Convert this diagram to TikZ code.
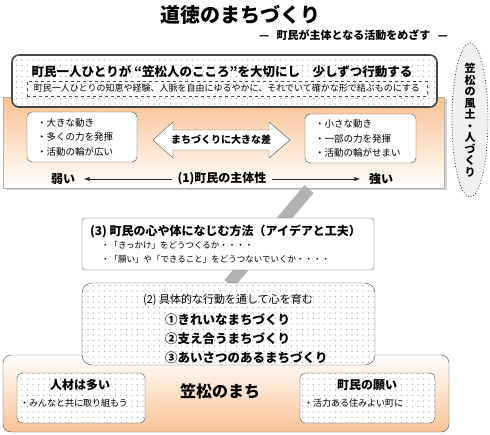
\documentclass[tikz,border=0pt]{standalone}
\usepackage{fontspec}
\setmainfont{Noto Sans CJK JP}
\usetikzlibrary{arrows.meta,shapes.geometric,patterns.meta,shadows}
\definecolor{peach}{RGB}{249,193,146}
\newcommand{\fsz}[2]{\fontsize{#1}{#2}\selectfont}

\begin{document}
\begin{tikzpicture}[x=1pt, y=-1pt, every node/.style={inner sep=0pt, outer sep=0pt}, >={Latex[length=2mm]},
	dotbox/.style={preaction={fill=white}, pattern={Dots[radius=0.55pt,distance=5.5pt]}, pattern color=gray!75, draw=gray!60!black},
	whitebox/.style={draw=gray!60!black, fill=white, rounded corners=#1},
	bullets/.style={align=left, font=\fsz{9.5}{14.5}, text width=90pt, inner xsep=10pt, anchor=north west},
	heading/.style={font=\bfseries\fsz{12}{14}}]
	\useasboundingbox (0,0) rectangle (490,434);
	% title
	\node[font=\bfseries\fsz{20}{24}] (title) at (240,15) {道徳のまちづくり};
	\node[font=\bfseries\fsz{11}{12}, anchor=east] (subtitle) at (448,35) {—\ \ \ 町民が主体となる活動をめざす\ \ \ —};
	% (1) upper orange part
	\node[draw=gray!60, top color=peach, bottom color=white, drop shadow={shadow xshift=3pt, shadow yshift=-2pt, fill=gray!70}, minimum width=441pt, minimum height=91pt, anchor=north west] (shutaibox) at (3,97) {};
	\node[dotbox, line width=1.6pt, draw=gray!55!black, rounded corners=7pt, minimum width=425pt, minimum height=52pt, anchor=north west] (kokoro) at (12,55) {};
	\node[font=\bfseries\fsz{12.5}{14}] (kokorotitle) at (222,72) {町民一人ひとりが “笠松人のこころ”を大切にし　少しずつ行動する};
	\node[draw=gray!60!black, dashed, fill=white, font=\fsz{9}{10}, minimum width=400pt, minimum height=15pt, anchor=north west] (chie) at (27,81) {町民一人ひとりの知恵や経験、人脈を自由にゆるやかに、それでいて確かな形で結ぶものにする};
	\node[whitebox=5pt, bullets, minimum height=50pt] (bigbox) at (27,112) {・大きな動き\\・多くの力を発揮\\・活動の輪が広い};
	\node[whitebox=5pt, bullets, text width=91pt, minimum height=49pt] (smallbox) at (305,114) {・小さな動き\\・一部の力を発揮\\・活動の輪がせまい};
	\draw[draw=gray!60!black, fill=white] (153,140) -- (173,122) -- (173,130) -- (269,130) -- (269,122) -- (290,140) -- (269,158) -- (269,150) -- (173,150) -- (173,158) -- cycle;
	\node[font=\bfseries\fsz{10}{12}] (sa) at (221,140) {まちづくりに大きな差};
	\node[heading] (weak) at (63,179) {弱い};
	\node[heading] (shutai) at (222,179) {(1)町民の主体性};
	\node[heading] (strong) at (381,179) {強い};
	\draw[->, gray!30!black] ([xshift=-6pt]shutai.west) -- ([xshift=9pt]weak.east);
	\draw[->, gray!30!black] ([xshift=6pt]shutai.east) -- ([xshift=-9pt]strong.west);
	% right ellipse
	\node[ellipse, draw=gray!40!black, dotted, thick, fill=gray!12, minimum width=36pt, minimum height=154pt] (fudo) at (470,120) {};
	\node[align=center, font=\bfseries\fsz{11}{11.5}] (fudotext) at (fudo) {笠\\松\\の\\風\\土\\・\\人\\づ\\く\\り};
	% band
	\coordinate (bandtop) at (309,189);
	\coordinate (bandbot) at (229,284);
	\draw[gray!60, line width=12pt] (bandtop) -- (bandbot);
	% (3)
	\node[whitebox=3pt, minimum width=292pt, minimum height=52pt, anchor=north west] (hoho) at (82,218) {};
	\node[heading, anchor=west] (hohotitle) at (90,231) {(3) 町民の心や体になじむ方法（アイデアと工夫）};
	\node[anchor=west, font=\fsz{8.5}{10}] (hoho1) at (101,245) {・「きっかけ」をどうつくるか・・・・};
	\node[anchor=west, font=\fsz{8.5}{10}] (hoho2) at (101,259) {・「願い」や「できること」をどうつないでいくか・・・・};
	% bottom
	\node[draw=gray!60!black, top color=white, bottom color=peach, rounded corners=8pt, minimum width=446pt, minimum height=77pt, anchor=north west] (machi) at (3,355) {};
	\node[font=\bfseries\fsz{16}{18}] (machititle) at (220,391) {笠松のまち};
	\node[dotbox, rounded corners=5pt, minimum width=128pt, minimum height=50pt, anchor=north west] (jinzai) at (17,373) {};
	\node[heading] (jinzaititle) at (80,385) {人材は多い};
	\node[anchor=west, font=\fsz{9}{10}] (jinzaitext) at (20,403) {・みんなと共に取り組もう};
	\node[dotbox, rounded corners=5pt, minimum width=135pt, minimum height=50pt, anchor=north west] (negai) at (300,373) {};
	\node[heading] (negaititle) at (367,385) {町民の願い};
	\node[anchor=west, font=\fsz{9}{10}] (negaitext) at (304,403) {・活力ある住みよい町に};
	% (2)
	\node[dotbox, rounded corners=10pt, minimum width=293pt, minimum height=82pt, anchor=north west] (sodatsu) at (82,283) {};
	\node[font=\fsz{11}{13}] (sodatsutitle) at (228,300) {(2) 具体的な行動を通して心を育む};
	\node[anchor=west, font=\bfseries\fsz{12.5}{14}] (kirei) at (165,320) {①きれいなまちづくり};
	\node[anchor=west, font=\bfseries\fsz{12.5}{14}] (sasae) at (165,339) {②支え合うまちづくり};
	\node[anchor=west, font=\bfseries\fsz{12.5}{14}] (aisatsu) at (165,358) {③あいさつのあるまちづくり};
\end{tikzpicture}
\end{document}
